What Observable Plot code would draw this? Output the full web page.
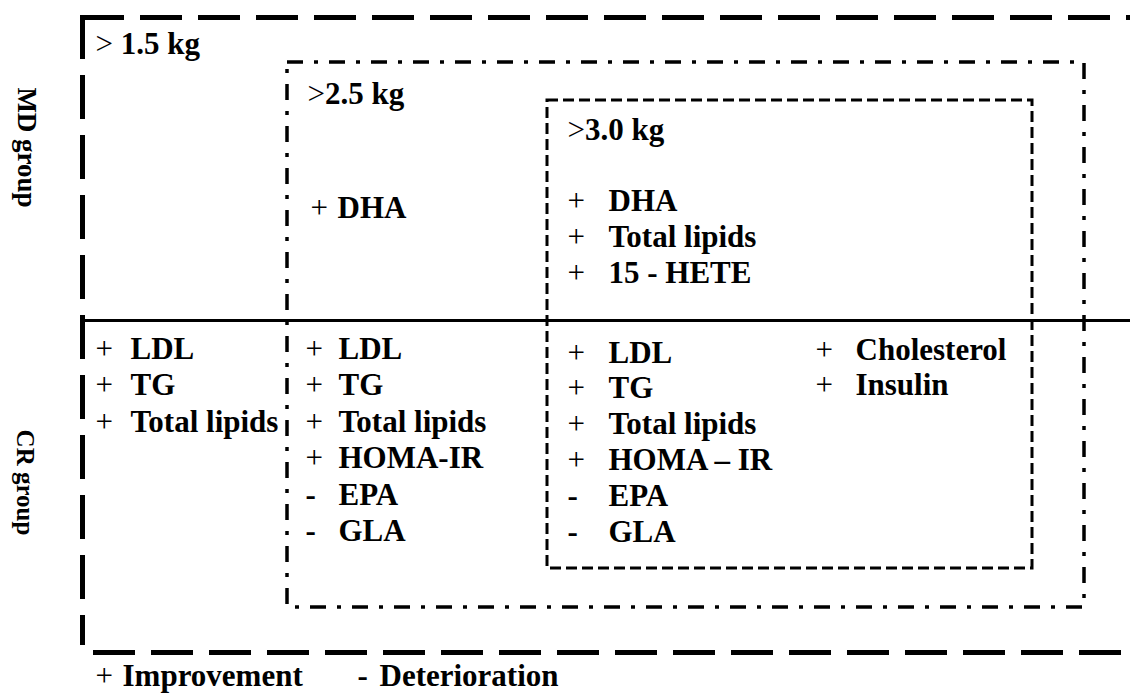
<!DOCTYPE html>
<html>
<head>
<meta charset="utf-8">
<script src="https://cdn.jsdelivr.net/npm/d3@7"></script>
<script src="https://cdn.jsdelivr.net/npm/@observablehq/plot@0.6"></script>
<style>
  html, body { margin: 0; padding: 0; background: #fff; }
  #chart svg { display: block; }
</style>
</head>
<body>
<div id="chart"></div>
<script>
// ---- Data (content only) ----
const thresholdLabels = ["> 1.5 kg", ">2.5 kg", ">3.0 kg"];
const groupLabels = ["MD group", "CR group"];
const md25Items = ["+ DHA"];
const md30Items = ["+ DHA", "+ Total lipids", "+ 15 - HETE"];
const cr15Items = ["+ LDL", "+ TG", "+ Total lipids"];
const cr25Items = ["+ LDL", "+ TG", "+ Total lipids", "+ HOMA-IR", "- EPA", "- GLA"];
const cr30Items = ["+ LDL", "+ TG", "+ Total lipids", "+ HOMA – IR", "- EPA", "- GLA"];
const cr30ExtraItems = ["+ Cholesterol", "+ Insulin"];
const legendItems = ["+ Improvement", "- Deterioration"];

// ---- Layout (pixel coordinates of the diagram) ----
const W = 1130, H = 693;
const FONT = "'Liberation Serif', 'Times New Roman', Times, serif";
const FS = 31;

const listBlocks = [
  {items: md25Items, sx: 310, nx: 337, y0: 217, step: 36},
  {items: md30Items, sx: 567, nx: 608, y0: 210, step: 36},
  {items: cr15Items, sx: 95, nx: 130, y0: 358, step: 36.5},
  {items: cr25Items, sx: 305, nx: 338, y0: 358, step: 36.5},
  {items: cr30Items, sx: 567, nx: 608, y0: 362, step: 35.8},
  {items: cr30ExtraItems, sx: 815, nx: 855, y0: 359, step: 35}
];
const listRows = listBlocks.flatMap(b => b.items.map((s, i) => ({
  sign: s.slice(0, 1), name: s.slice(2), sx: b.sx, nx: b.nx, y: b.y0 + i * b.step
})));
const legendPos = [{sx: 95, nx: 122}, {sx: 357, nx: 379}];
const legendRows = legendItems.map((s, i) => ({
  sign: s.slice(0, 1), name: s.slice(2), sx: legendPos[i].sx, nx: legendPos[i].nx, y: 685
}));
const allRows = listRows.concat(legendRows);

const thresholdPos = [{x: 95, y: 53}, {x: 307, y: 103}, {x: 567, y: 139}];
const thresholdRows = thresholdLabels.map((t, i) => ({sym: t.slice(0, 1), rest: t.slice(1), ...thresholdPos[i]}));
const groupPos = [{x: 26, y: 147, size: 27}, {x: 24, y: 482, size: 25}];
const groupRows = groupLabels.map((g, i) => ({label: g, ...groupPos[i]}));

const txt = {fontFamily: FONT, fontSize: FS, textAnchor: "start", lineAnchor: "bottom", fill: "#000"};

const chart = Plot.plot({
  width: W, height: H,
  margin: 0,
  x: {domain: [0, W], range: [0, W], axis: null},
  y: {domain: [0, H], range: [0, H], axis: null},
  style: {background: "#fff"},
  marks: [
    // outer box (> 1.5 kg), long dashes, open on the right
    Plot.ruleY([17], {x1: 82, x2: W, stroke: "#000", strokeWidth: 5, strokeDasharray: "42,16"}),
    Plot.ruleX([82], {y1: 15, y2: 645, stroke: "#000", strokeWidth: 5, strokeDasharray: "44,16"}),
    Plot.ruleY([652], {x1: 93, x2: W, stroke: "#000", strokeWidth: 5, strokeDasharray: "42,16"}),
    // separator between MD and CR groups
    Plot.ruleY([320], {x1: 82, x2: W, stroke: "#000", strokeWidth: 3}),
    // middle box (> 2.5 kg), dash-dot
    Plot.rect([0], {x1: 287, x2: 1084, y1: 62, y2: 607, fill: "none", stroke: "#000", strokeWidth: 3.5, strokeDasharray: "16,11,4,11"}),
    // inner box (> 3.0 kg), short dashes
    Plot.rect([0], {x1: 547, x2: 1032, y1: 100, y2: 568, fill: "none", stroke: "#000", strokeWidth: 3, strokeDasharray: "11,5"}),
    // threshold labels
    Plot.text(thresholdRows, {x: "x", y: "y", text: d => d.sym, ...txt, fontWeight: "normal"}),
    Plot.text(thresholdRows, {x: d => d.x + 17.5, y: "y", text: d => d.rest, ...txt, fontWeight: "bold"}),
    // signs
    Plot.text(allRows.filter(d => d.sign === "+"), {x: "sx", y: "y", text: "sign", ...txt, fontWeight: "normal"}),
    Plot.text(allRows.filter(d => d.sign !== "+"), {x: "sx", y: "y", text: "sign", ...txt, fontWeight: "bold"}),
    // names
    Plot.text(allRows, {x: "nx", y: "y", text: "name", ...txt, fontWeight: "bold"}),
    // group labels, rotated
    Plot.text(groupRows, {x: "x", y: "y", text: "label", rotate: 90, fontFamily: FONT, fontSize: "size", fontWeight: "bold", textAnchor: "middle", lineAnchor: "middle", fill: "#000"})
  ]
});
document.getElementById("chart").appendChild(chart);
</script>
</body>
</html>
